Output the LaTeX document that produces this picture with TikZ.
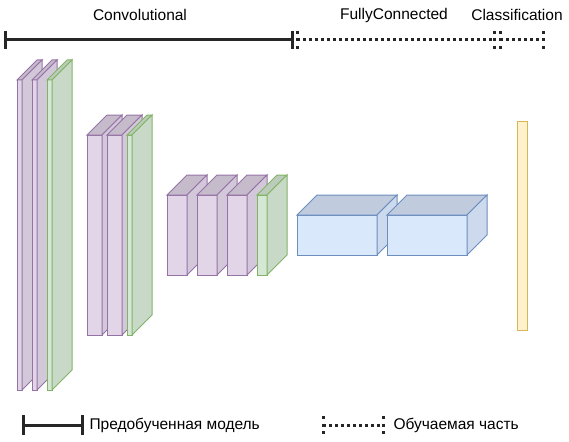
\documentclass[tikz,border=0pt]{standalone}
\usepackage{fontspec}
\setmainfont{Liberation Sans}
\usetikzlibrary{positioning}

\definecolor{purpF}{HTML}{E1D5E7}
\definecolor{purpD}{HTML}{9673A6}
\definecolor{grnF}{HTML}{D5E8D4}
\definecolor{grnD}{HTML}{82B366}
\definecolor{bluF}{HTML}{DAE8FC}
\definecolor{bluD}{HTML}{6C8EBF}
\definecolor{ylwF}{HTML}{FFF2CC}
\definecolor{ylwD}{HTML}{D6B656}

% one layer: left, top, front width, height, colour prefix
\newcommand{\slab}[5]{%
  \filldraw[draw=#5D, fill=#5F] (#1,#2) rectangle ({#1+#3},{#2+#4});
  \filldraw[draw=#5D, fill=#5F!88!black]
    (#1,#2) -- ({#1+20},{#2-20}) -- ({#1+#3+20},{#2-20}) -- ({#1+#3},#2) -- cycle;
  \filldraw[draw=#5D, fill=#5F!94!black]
    ({#1+#3},#2) -- ({#1+#3+20},{#2-20}) -- ({#1+#3+20},{#2+#4-20})
    -- ({#1+#3},{#2+#4}) -- cycle;
}

\tikzset{
  lbl/.style={font=\fontsize{15.5}{18}\selectfont, inner sep=0pt},
  solidbar/.style={line width=3pt, black!85},
  dotbar/.style={line width=3pt, black!85, dash pattern=on 3pt off 3pt},
  dottick/.style={line width=3pt, black!85, dash pattern=on 3pt off 4.5pt}
}

\begin{document}
\begin{tikzpicture}[x=1pt, y=-1pt, line width=1pt]
  \useasboundingbox (0,0) rectangle (569,441);

  % section bars
  \coordinate (convL) at (5,40);
  \coordinate (convR) at (292,40);
  \coordinate (fcL) at (297,40);
  \coordinate (fcR) at (494,40);
  \coordinate (clsL) at (500,40);
  \coordinate (clsR) at (543,40);

  \draw[solidbar] (convL) -- (convR);
  \draw[solidbar] ([yshift=9pt]convL) -- ([yshift=-9pt]convL);
  \draw[solidbar] ([yshift=9pt]convR) -- ([yshift=-9pt]convR);
  \draw[dotbar] (fcL) -- (fcR);
  \draw[dotbar] (clsL) -- (clsR);
  \foreach \c in {fcL, fcR, clsL, clsR}
    \draw[dottick] ([yshift=9pt]\c) -- ([yshift=-9pt]\c);

  \node[lbl] (conv) at (140,15) {Convolutional};
  \node[lbl] (fc) at (394,15) {FullyConnected};
  \node[lbl] (cls) at (517,15) {Classification};

  % convolutional blocks
  \slab{17}{80}{5}{310}{purp}
  \slab{32}{80}{5}{310}{purp}
  \slab{47}{80}{5}{310}{grn}

  \slab{87}{135}{15}{200}{purp}
  \slab{107}{135}{15}{200}{purp}
  \slab{127}{135}{5}{200}{grn}

  \slab{167}{195}{20}{80}{purp}
  \slab{197}{195}{20}{80}{purp}
  \slab{227}{195}{20}{80}{purp}
  \slab{257}{195}{10}{80}{grn}

  % fully connected
  \slab{297}{215}{80}{40}{blu}
  \slab{387}{215}{80}{40}{blu}

  % classification
  \filldraw[draw=ylwD, fill=ylwF] (517,121) rectangle (527,330);

  % legend
  \coordinate (preL) at (23,425);
  \coordinate (preR) at (82,425);
  \draw[solidbar] (preL) -- (preR);
  \draw[solidbar] ([yshift=10pt]preL) -- ([yshift=-10pt]preL);
  \draw[solidbar] ([yshift=10pt]preR) -- ([yshift=-10pt]preR);
  \node[lbl, anchor=west] (pre) at (89,425) {Предобученная модель};

  \coordinate (trnL) at (323,425);
  \coordinate (trnR) at (383,425);
  \draw[dotbar] (trnL) -- (trnR);
  \draw[dottick] ([yshift=9pt]trnL) -- ([yshift=-9pt]trnL);
  \draw[dottick] ([yshift=9pt]trnR) -- ([yshift=-9pt]trnR);
  \node[lbl, anchor=west] (trn) at (393,425) {Обучаемая часть};
\end{tikzpicture}
\end{document}
